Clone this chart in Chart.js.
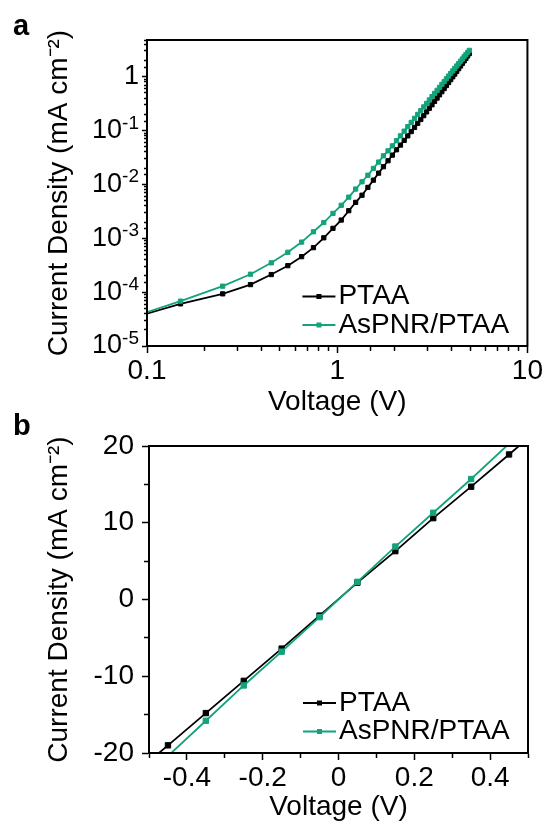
<!DOCTYPE html>
<html>
<head>
<meta charset="utf-8">
<title>J-V curves</title>
<script src="https://cdn.jsdelivr.net/npm/chart.js@4.4.1/dist/chart.umd.min.js"></script>
<style>
	html, body { margin: 0; padding: 0; background: #fff; overflow: hidden; width: 544px; height: 821px; }
	#wrapA { position: absolute; left: 0; top: 0; width: 544px; height: 420px; }
	#wrapB { position: absolute; left: 0; top: 410px; width: 544px; height: 430px; }
</style>
</head>
<body>
<div id="wrapB"><canvas id="chartB" width="544" height="430"></canvas></div>
<div id="wrapA"><canvas id="chartA" width="544" height="420"></canvas></div>
<script>
// panel a : log-log J-V, voltage 0.05 .. 4.95 V
var logVoltage = [0.05, 0.15, 0.25, 0.35, 0.45, 0.55, 0.65, 0.75, 0.85, 0.95,
	1.05, 1.15, 1.25, 1.35, 1.45, 1.55, 1.65, 1.75, 1.85, 1.95,
	2.05, 2.15, 2.25, 2.35, 2.45, 2.55, 2.65, 2.75, 2.85, 2.95,
	3.05, 3.15, 3.25, 3.35, 3.45, 3.55, 3.65, 3.75, 3.85, 3.95,
	4.05, 4.15, 4.25, 4.35, 4.45, 4.55, 4.65, 4.75, 4.85, 4.95];
var ptaaLog = [1.95e-5, 6.07e-5, 9.3e-5, 1.38e-4, 2.12e-4, 3.1e-4, 4.56e-4, 6.7e-4, 1.02e-3, 1.53e-3,
	2.18e-3, 3.25e-3, 4.64e-3, 6.3e-3, 8.8e-3, 0.012, 0.0162, 0.0213, 0.0275, 0.035,
	0.044, 0.0538, 0.0657, 0.0796, 0.0958, 0.1143, 0.136, 0.1607, 0.189, 0.222,
	0.259, 0.301, 0.348, 0.401, 0.461, 0.527, 0.602, 0.685, 0.778, 0.881,
	0.996, 1.12, 1.26, 1.41, 1.58, 1.77, 1.97, 2.19, 2.43, 2.69];
var aspnrLog = [1.9e-5, 6.8e-5, 1.29e-4, 2.15e-4, 3.5e-4, 5.5e-4, 8.5e-4, 1.32e-3, 1.96e-3, 2.9e-3,
	4.1e-3, 5.8e-3, 8.2e-3, 0.0112, 0.0148, 0.0198, 0.026, 0.034, 0.042, 0.052,
	0.0649, 0.0798, 0.0975, 0.118, 0.1416, 0.1687, 0.1995, 0.235, 0.275, 0.319,
	0.37, 0.426, 0.489, 0.557, 0.634, 0.718, 0.811, 0.914, 1.026, 1.148,
	1.28, 1.425, 1.58, 1.75, 1.935, 2.13, 2.35, 2.57, 2.82, 3.08];

// panel b : linear J-V around 0 V
var linVoltage = [-0.55, -0.45, -0.35, -0.25, -0.15, -0.05, 0.05, 0.15, 0.25, 0.35, 0.45, 0.55];
var ptaaLin = [-23.2, -19.0, -14.8, -10.6, -6.4, -2.1, 2.2, 6.3, 10.6, 14.7, 18.9, 23.1];
var aspnrLin = [-24.9, -20.4, -15.8, -11.2, -6.8, -2.3, 2.3, 6.9, 11.3, 15.7, 20.3, 24.8];

var seriesLabels = ['PTAA', 'AsPNR/PTAA'];
var seriesColors = ['#000000', '#12a37c'];
var xTitle = 'Voltage (V)';
var yTitle = 'Current Density (mA cm\u207B\u00B2)';

var FAMILY = "'Liberation Sans', Arial, sans-serif";
Chart.defaults.font.family = FAMILY;
Chart.defaults.color = '#000';
var labelFont = { family: FAMILY, size: 28 };

function isDecade(v) {
	var l = Math.log10(v);
	return Math.abs(l - Math.round(l)) < 1e-6;
}

function toPoints(xs, ys) {
	return xs.map(function(x, i) {
		return { x: x, y: ys[i] };
	});
}

function makeDataset(i, xs, ys, radius) {
	return {
		label: seriesLabels[i],
		data: toPoints(xs, ys),
		borderColor: seriesColors[i],
		backgroundColor: seriesColors[i],
		borderWidth: 1.8,
		pointStyle: 'rect',
		pointRadius: radius,
		pointBorderWidth: 1,
		pointHoverRadius: radius,
		clip: 0,
		order: i === 0 ? 1 : 0
	};
}

// decade labels 10^n with a real superscript (log axis of panel a)
function drawDecadeLabels(chart, gap) {
	var scale = chart.scales.y;
	var ctx = chart.ctx;
	var xr = scale.right - gap;
	ctx.fillStyle = '#000';
	ctx.textAlign = 'right';
	scale.ticks.forEach(function(t) {
		if (!isDecade(t.value)) return;
		var y = scale.getPixelForValue(t.value);
		var e = Math.round(Math.log10(t.value));
		if (e === 0) {
			ctx.font = '27px ' + FAMILY;
			ctx.textBaseline = 'middle';
			ctx.fillText('1', xr, y);
			return;
		}
		var sup = String(e);
		ctx.font = '19px ' + FAMILY;
		ctx.textBaseline = 'alphabetic';
		ctx.fillText(sup, xr, y - 2);
		var w = ctx.measureText(sup).width;
		ctx.font = '27px ' + FAMILY;
		ctx.textBaseline = 'middle';
		ctx.fillText('10', xr - w, y);
	});
}

// frame, in-plot legend and panel letter
var extras = {
	id: 'extras',
	afterDraw: function(chart, args, opts) {
		var ctx = chart.ctx;
		var a = chart.chartArea;
		ctx.save();
		ctx.strokeStyle = '#000';
		ctx.lineWidth = 2;
		ctx.strokeRect(a.left, a.top, a.right - a.left, a.bottom - a.top);

		if (opts.decadeGap) drawDecadeLabels(chart, opts.decadeGap);

		var x0 = a.right - opts.legendFromRight;
		chart.data.datasets.forEach(function(ds, i) {
			var y = a.bottom - opts.legendRows[i];
			ctx.strokeStyle = ds.borderColor;
			ctx.lineWidth = 1.8;
			ctx.beginPath();
			ctx.moveTo(x0, y);
			ctx.lineTo(x0 + 33, y);
			ctx.stroke();
			ctx.fillStyle = ds.borderColor;
			ctx.fillRect(x0 + 16.5 - 2.5, y - 2.5, 5, 5);
			ctx.fillStyle = '#000';
			ctx.font = '28px ' + FAMILY;
			ctx.textBaseline = 'middle';
			ctx.textAlign = 'left';
			ctx.fillText(ds.label, x0 + 36, y);
		});

		ctx.font = 'bold 29px ' + FAMILY;
		ctx.textBaseline = 'alphabetic';
		ctx.textAlign = 'left';
		ctx.fillStyle = '#000';
		ctx.fillText(opts.letter, opts.letterX, opts.letterY);
		ctx.restore();
	}
};

var chartA = new Chart(document.getElementById('chartA').getContext('2d'), {
	type: 'line',
	data: {
		datasets: [
			makeDataset(0, logVoltage, ptaaLog, 3),
			makeDataset(1, logVoltage, aspnrLog, 3)
		]
	},
	options: {
		responsive: false,
		animation: false,
		layout: { padding: { top: 40, right: 16, bottom: 0, left: 0 } },
		plugins: {
			legend: { display: false },
			tooltip: { enabled: false },
			extras: { legendFromRight: 225, legendRows: [49.5, 21], letter: 'a', letterX: 13, letterY: 35, decadeGap: 8 }
		},
		scales: {
			x: {
				type: 'logarithmic',
				position: 'bottom',
				min: 0.1,
				max: 10,
				border: { color: '#000', width: 2 },
				grid: {
					drawOnChartArea: false, color: '#000', tickLength: 7, tickWidth: 1.5,
					tickBorderDash: function(ctx) { return (!ctx.tick || isDecade(ctx.tick.value)) ? [] : [4, 30]; }
				},
				ticks: {
					autoSkip: false, maxRotation: 0, minRotation: 0, padding: 1, color: '#000', font: labelFont,
					callback: function(v) { return isDecade(v) ? String(v) : ''; }
				},
				title: { display: true, text: xTitle, color: '#000', font: labelFont, padding: { top: 0, bottom: 1.4 } },
				afterFit: function(s) { s.height = 74; }
			},
			y: {
				type: 'logarithmic',
				position: 'left',
				min: 1e-5,
				max: 4.8,
				border: { color: '#000', width: 2 },
				grid: {
					drawOnChartArea: false, color: '#000', tickLength: 5, tickWidth: 1.5,
					tickBorderDash: function(ctx) { return (!ctx.tick || isDecade(ctx.tick.value)) ? [] : [0, 2, 3, 30]; }
				},
				ticks: {
					autoSkip: false, padding: 3, color: '#000', font: labelFont,
					callback: function() { return ''; }
				},
				title: { display: true, text: yTitle, color: '#000', font: labelFont, padding: { top: 42, bottom: 0 } },
				afterFit: function(s) { s.width = 147; }
			}
		}
	},
	plugins: [extras]
});

var chartB = new Chart(document.getElementById('chartB').getContext('2d'), {
	type: 'line',
	data: {
		datasets: [
			makeDataset(0, linVoltage, ptaaLin, 3.8),
			makeDataset(1, linVoltage, aspnrLin, 3.8)
		]
	},
	options: {
		responsive: false,
		animation: false,
		layout: { padding: { top: 36, right: 16, bottom: 0, left: 0 } },
		plugins: {
			legend: { display: false },
			tooltip: { enabled: false },
			extras: { legendFromRight: 225, legendRows: [50, 21.5], letter: 'b', letterX: 13, letterY: 25 }
		},
		scales: {
			x: {
				type: 'linear',
				position: 'bottom',
				min: -0.5,
				max: 0.5,
				border: { color: '#000', width: 2 },
				grid: {
					drawOnChartArea: false, color: '#000', tickLength: 7, tickWidth: 1.5,
					tickBorderDash: function(ctx) { return (!ctx.tick || Math.round(ctx.tick.value * 10) % 2 === 0) ? [] : [4, 30]; }
				},
				ticks: {
					stepSize: 0.1, autoSkip: false, maxRotation: 0, minRotation: 0, padding: 1, color: '#000', font: labelFont,
					callback: function(v) {
						var k = Math.round(v * 10);
						if (k % 2 !== 0) return '';
						return k === 0 ? '0' : (k / 10).toFixed(1);
					}
				},
				title: { display: true, text: xTitle, color: '#000', font: labelFont, padding: { top: 0, bottom: 15.9 } },
				afterFit: function(s) { s.height = 87; }
			},
			y: {
				type: 'linear',
				position: 'left',
				min: -20,
				max: 20,
				border: { color: '#000', width: 2 },
				grid: {
					drawOnChartArea: false, color: '#000', tickLength: 7, tickWidth: 1.5,
					tickBorderDash: function(ctx) { return (!ctx.tick || ctx.tick.value % 10 === 0) ? [] : [0, 2, 5, 30]; }
				},
				ticks: {
					stepSize: 5, autoSkip: false, padding: 8, color: '#000', font: labelFont,
					callback: function(v) { return v % 10 === 0 ? String(v) : ''; }
				},
				title: { display: true, text: yTitle, color: '#000', font: labelFont, padding: { top: 42, bottom: 0 } },
				afterFit: function(s) { s.width = 149; }
			}
		}
	},
	plugins: [extras]
});
</script>
</body>
</html>
